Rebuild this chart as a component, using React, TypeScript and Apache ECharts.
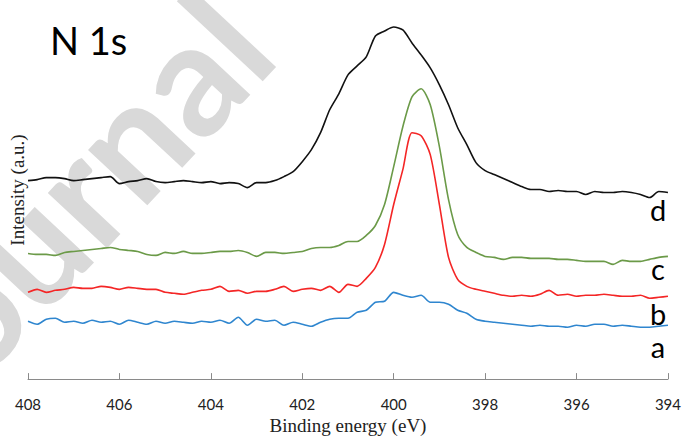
import React, { useEffect, useRef } from "react";
import * as echarts from "echarts";

// Binding energy grid (eV), 408 -> 394 in 0.2 eV steps
const energy = [
  408.0, 407.8, 407.6, 407.4, 407.2, 407.0, 406.8, 406.6, 406.4, 406.2,
  406.0, 405.8, 405.6, 405.4, 405.2, 405.0, 404.8, 404.6, 404.4, 404.2,
  404.0, 403.8, 403.6, 403.4, 403.2, 403.0, 402.8, 402.6, 402.4, 402.2,
  402.0, 401.8, 401.6, 401.4, 401.2, 401.0, 400.8, 400.6, 400.4, 400.2,
  400.0, 399.8, 399.6, 399.4, 399.2, 399.0, 398.8, 398.6, 398.4, 398.2,
  398.0, 397.8, 397.6, 397.4, 397.2, 397.0, 396.8, 396.6, 396.4, 396.2,
  396.0, 395.8, 395.6, 395.4, 395.2, 395.0, 394.8, 394.6, 394.4, 394.2,
  394.0,
];

// Intensity (a.u., offset-stacked as in the figure)
const seriesD = [
  199, 200, 202, 202, 201, 199, 200, 201, 202, 203,
  196, 198, 199, 201, 198, 197, 198, 199, 198, 197,
  198, 196, 197, 196, 192, 197, 197, 199, 203, 208,
  218, 230, 247, 270, 286, 305, 314, 323, 344, 349,
  353, 350, 337, 325, 312, 295, 275, 252, 235, 217,
  209, 205, 201, 197, 193, 190, 190, 188, 189, 188,
  188, 185, 188, 187, 187, 188, 187, 185, 182, 188,
  187,
];

const seriesC = [
  126, 125, 125, 124, 127, 128, 129, 130, 131, 132,
  130, 129, 128, 125, 124, 127, 126, 128, 126, 126,
  127, 128, 128, 129, 127, 123, 127, 127, 126, 127,
  128, 131, 132, 132, 134, 138, 138, 144, 154, 175,
  213, 253, 283, 291, 275, 233, 180, 145, 132, 127,
  123, 122, 120, 122, 122, 121, 121, 121, 120, 120,
  119, 118, 118, 118, 115, 119, 118, 118, 120, 122,
  123,
];

const seriesB = [
  87, 90, 87, 89, 90, 92, 91, 91, 93, 92,
  90, 92, 91, 90, 90, 87, 86, 85, 87, 89,
  90, 93, 88, 89, 86, 88, 88, 90, 93, 88,
  90, 91, 89, 93, 87, 95, 93, 101, 112, 135,
  175, 210, 247, 244, 225, 175, 122, 100, 93, 90,
  88, 86, 84, 83, 84, 83, 85, 89, 84, 85,
  83, 84, 84, 85, 84, 83, 83, 84, 81, 82,
  83,
];

const seriesA = [
  58, 55, 60, 61, 57, 58, 56, 59, 57, 58,
  55, 59, 57, 55, 58, 56, 58, 57, 56, 58,
  57, 59, 56, 62, 54, 60, 58, 59, 54, 57,
  55, 53, 57, 60, 61, 61, 67, 69, 77, 78,
  87, 84, 82, 84, 77, 77, 75, 69, 66, 60,
  58, 57, 56, 55, 54, 53, 54, 53, 53, 52,
  54, 53, 55, 55, 53, 54, 53, 52, 52, 53,
  54,
];

const seriesNames = ["d", "c", "b", "a"];
const seriesColors = ["#111111", "#6b9a48", "#f42626", "#2f86cf"];
const xTicks = [394, 396, 398, 400, 402, 404, 406, 408];

const pair = (vals: number[]) => energy.map((e, i) => [e, vals[i]]);

export default function App() {
  const ref = useRef<HTMLDivElement>(null);
  useEffect(() => {
    if (!ref.current) return;
    const chart = echarts.init(ref.current, undefined, { renderer: "svg" });
    const all = [seriesD, seriesC, seriesB, seriesA];
    chart.setOption({
      animation: false,
      backgroundColor: "#ffffff",
      grid: { left: 28, right: 15, top: 10, bottom: 52, containLabel: false },
      xAxis: {
        type: "value",
        min: 394,
        max: 408,
        interval: 2,
        inverse: true,
        name: "Binding energy (eV)",
        nameLocation: "middle",
        nameGap: 27,
        nameTextStyle: { fontFamily: "Liberation Serif", fontSize: 19, color: "#222" },
        axisLine: { show: true, lineStyle: { color: "#8a8a8a", width: 1 } },
        axisTick: { show: true, inside: true, length: 6, lineStyle: { color: "#8a8a8a" } },
        axisLabel: {
          fontFamily: "Lato",
          fontSize: 15,
          color: "#222",
          margin: 9,
          formatter: (v: number) => (xTicks.includes(v) ? String(v) : ""),
        },
        splitLine: { show: false },
      },
      yAxis: { type: "value", min: -8, max: 370, show: false },
      graphic: [
        {
          type: "text",
          z: -10,
          x: 296,
          y: 72,
          rotation: (47 * Math.PI) / 180,
          style: {
            text: "Journal",
            fontFamily: "Lato",
            fontWeight: "bold",
            fontSize: 158,
            fill: "#d9d9d9",
            textAlign: "right",
            textVerticalAlign: "bottom",
          },
        },
        {
          type: "text",
          x: 50,
          y: 40,
          style: {
            text: "N 1s",
            fontFamily: "Lato",
            fontSize: 38,
            fill: "#000",
            textAlign: "left",
            textVerticalAlign: "middle",
          },
        },
        {
          type: "text",
          x: 17,
          y: 190,
          rotation: Math.PI / 2,
          style: {
            text: "Intensity (a.u.)",
            fontFamily: "Liberation Serif",
            fontSize: 19,
            fill: "#222",
            textAlign: "center",
            textVerticalAlign: "middle",
          },
        },
        ...seriesNames.map((n, i) => ({
          type: "text",
          x: 658,
          y: [209, 268, 313, 346][i],
          style: {
            text: n,
            fontFamily: "Lato",
            fontSize: 29,
            fill: "#000",
            textAlign: "center",
            textVerticalAlign: "middle",
          },
        })),
      ],
      series: all.map((vals, i) => ({
        type: "line",
        name: seriesNames[i],
        data: pair(vals),
        showSymbol: false,
        symbol: "none",
        smooth: 0.25,
        z: 5,
        lineStyle: { color: seriesColors[i], width: 1.6 },
      })),
    });
    return () => chart.dispose();
  }, []);
  return <div ref={ref} style={{ width: 684, height: 440, position: "absolute", left: 0, top: 0 }} />;
}
